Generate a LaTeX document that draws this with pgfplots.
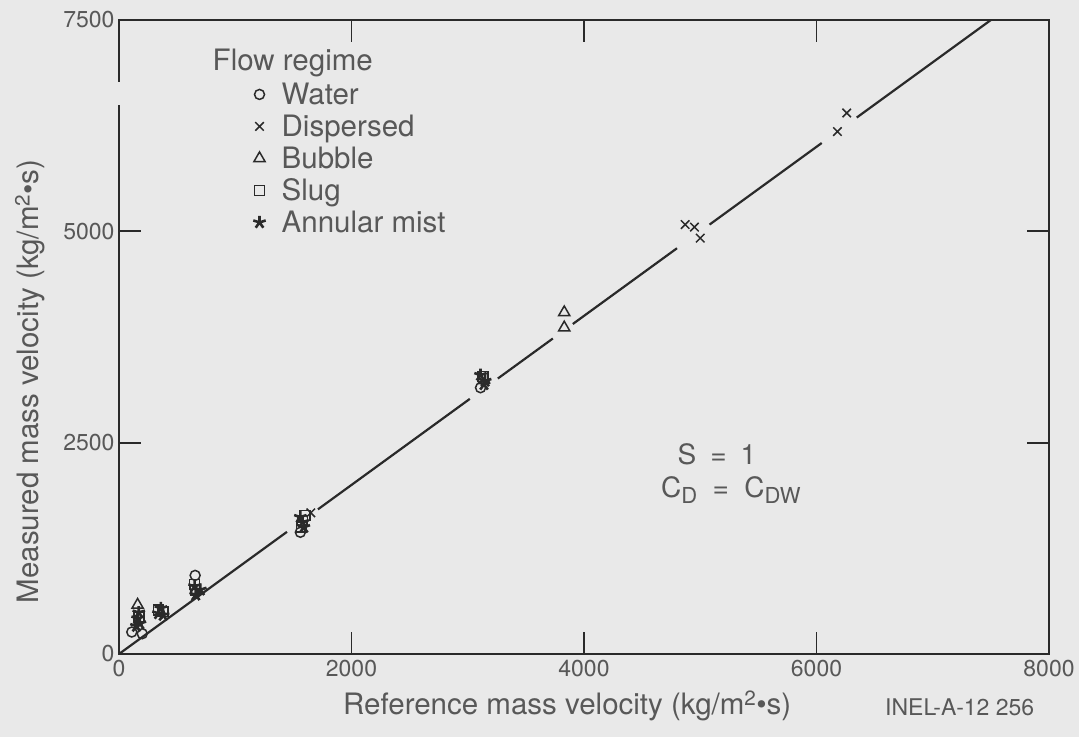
\documentclass[border=0pt]{standalone}
\usepackage{pgfplots}
\pgfplotsset{compat=1.18}
\usepackage{fontspec}
\setmainfont{TeX Gyre Heros}
\definecolor{paper}{HTML}{E9E9E9}
\definecolor{ink}{HTML}{2A2A2A}
\definecolor{txt}{HTML}{585858}
\newcommand{\fs}[1]{\fontsize{#1}{#1}\selectfont}

\pgfplotsset{
  lg/.style={only marks, mark options={solid, line width=1.5pt},
    legend image code/.code={\draw[##1] plot coordinates {(0pt,3pt)};}},
}

\begin{document}
\begin{tikzpicture}
\fill[paper] (-119pt,-83pt) rectangle (960pt,654pt);
\begin{axis}[
  at={(0pt,0pt)}, anchor=south west,
  width=930pt, height=634pt, scale only axis,
  xmin=0, xmax=8000, ymin=0, ymax=7500,
  xtick={0,2000,4000,6000,8000},
  ytick={0,2500,5000,7500},
  tick align=inside, major tick length=22pt,
  axis line style={ink, line width=2.2pt},
  tick style={ink, line width=1.8pt},
  ticklabel style={font=\fs{23}, text=txt},
  /pgf/number format/assume math mode=true,
  /pgf/number format/1000 sep={},
  xticklabel style={yshift=-3pt},
  yticklabel style={xshift=-1pt},
  clip=false,
  xlabel={Reference mass velocity (kg/m\textsuperscript{2}\textbullet s)},
  ylabel={Measured mass velocity (kg/m\textsuperscript{2}\textbullet s)},
  label style={font=\fs{29.5}, text=txt},
  xlabel style={at={(axis description cs:0.482,0)}, anchor=center, yshift=-52pt},
  ylabel style={at={(axis description cs:0,0.43)}, anchor=center, yshift=89pt},
  legend style={at={(rel axis cs:0.141,0.905)}, anchor=north west,
    draw=none, fill=none, font=\fs{29.5}, text=txt, row sep=2pt,
    /tikz/column sep=14pt,
    nodes={inner sep=2pt, text height=20pt, text depth=6pt}},
  legend cell align=left,
]
% one-to-one line, broken where the data clusters sit on it
\addplot[ink, line width=2.2pt, forget plot] coordinates {(0,0) (1445,1445)};
\addplot[ink, line width=2.2pt, forget plot] coordinates {(1711,1711) (3018,3018)};
\addplot[ink, line width=2.2pt, forget plot] coordinates {(3259,3259) (3732,3732)};
\addplot[ink, line width=2.2pt, forget plot] coordinates {(3904,3904) (4800,4800)};
\addplot[ink, line width=2.2pt, forget plot] coordinates {(5080,5080) (6045,6045)};
\addplot[ink, line width=2.2pt, forget plot] coordinates {(6346,6346) (7500,7500)};

% Water
\addplot[lg, ink, mark=o, mark size=5pt] coordinates {
  (110,260) (200,240) (655,930) (1560,1440) (3110,3150)};
\addlegendentry{Water}
% Dispersed
\addplot[lg, ink, mark=x, mark size=6pt] coordinates {
  (6180,6180) (6260,6400) (4870,5080) (4950,5050) (5000,4920) (1650,1670)};
\addlegendentry{Dispersed}
% Bubble
\addplot[lg, ink, mark=triangle, mark size=6.5pt] coordinates {
  (3830,4040) (3830,3860) (160,580)};
\addlegendentry{Bubble}
% Slug
\addplot[lg, ink, mark=square, mark size=5pt] coordinates {
  (1570,1500) (1580,1580) (1600,1640) (650,820) (660,760)
  (340,520) (380,500) (3130,3280) (170,440)};
\addlegendentry{Slug}
% Annular mist
\addplot[lg, ink, mark=star, mark size=6.5pt, mark options={fill=ink, line width=2.6pt}] coordinates {
  (160,420) (170,490) (180,360) (150,330) (340,480) (360,540) (380,460)
  (660,700) (700,760) (650,800)
  (3150,3230) (3110,3300) (3140,3190) (1580,1560) (1560,1620) (1590,1500)};
\addlegendentry{Annular mist}

\node[anchor=west, font=\fs{29.5}, text=txt] at (rel axis cs:0.097,0.932) {Flow regime};
\node[font=\fs{28}, text=txt] at (rel axis cs:0.643,0.3155) {S\hspace{0.5em}=\hspace{0.5em}1};
\node[font=\fs{28}, text=txt] at (rel axis cs:0.658,0.2587)
  {C\raisebox{-0.35ex}{\fs{22}D}\hspace{0.55em}=\hspace{0.55em}C\raisebox{-0.35ex}{\fs{22}DW}};
\node[font=\fs{23}, text=txt] at (rel axis cs:0.904,-0.0836) {INEL-A-12 256};
\end{axis}
% break in the left frame line
\fill[paper] (-4pt,549pt) rectangle (4pt,572pt);
\pgfresetboundingbox
\path[use as bounding box] (-119pt,-83pt) rectangle (960pt,654pt);
\end{tikzpicture}
\end{document}
